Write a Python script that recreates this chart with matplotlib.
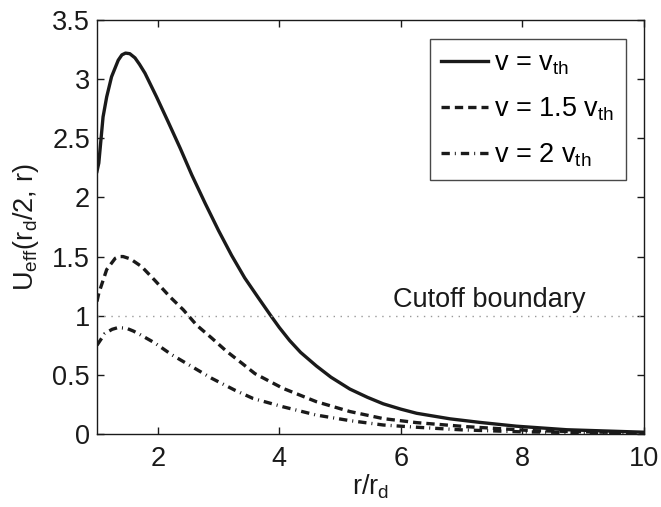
import matplotlib
matplotlib.use("Agg")
import matplotlib.pyplot as plt

plt.rcParams['font.family'] = ['Liberation Sans', 'DejaVu Sans']
plt.rcParams['mathtext.fontset'] = 'custom'
plt.rcParams['mathtext.rm'] = 'Liberation Sans'
plt.rcParams['mathtext.it'] = 'Liberation Sans'

# Data
r_solid = [1.0, 1.03, 1.066, 1.10, 1.16, 1.24, 1.35, 1.41, 1.47, 1.54, 1.625, 1.70, 1.79,
           1.98, 2.17, 2.37, 2.56, 2.78, 3.00, 3.215, 3.43, 3.65, 3.86, 4.00, 4.17, 4.35,
           4.61, 4.85, 5.16, 5.45, 5.71, 6.00, 6.26, 6.81, 7.30, 7.90, 8.73, 10.0]
u_solid = [2.22, 2.29, 2.49, 2.68, 2.85, 3.02, 3.16, 3.205, 3.22, 3.215, 3.18, 3.125, 3.05,
           2.85, 2.64, 2.415, 2.19, 1.95, 1.72, 1.51, 1.32, 1.155, 1.00, 0.90, 0.79, 0.69,
           0.575, 0.48, 0.38, 0.31, 0.255, 0.21, 0.175, 0.128, 0.098, 0.066, 0.036, 0.015]

r_dash = [1.0, 1.03, 1.16, 1.30, 1.36, 1.43, 1.55, 1.735, 1.95, 2.20, 2.42, 2.64, 2.89,
          3.13, 3.38, 3.60, 4.06, 4.61, 5.16, 5.71, 6.26, 7.08, 8.17, 10.0]
u_dash = [1.12, 1.19, 1.39, 1.485, 1.50, 1.50, 1.48, 1.415, 1.30, 1.16, 1.05, 0.92, 0.81,
          0.70, 0.60, 0.51, 0.386, 0.273, 0.19, 0.13, 0.096, 0.062, 0.028, 0.008]

r_dd = [1.0, 1.13, 1.25, 1.35, 1.49, 1.60, 1.71, 1.95, 2.23, 2.56, 2.89, 3.27, 3.57, 4.06,
        4.61, 5.16, 5.71, 6.26, 7.0, 8.0, 10.0]
u_dd = [0.75, 0.85, 0.885, 0.90, 0.893, 0.87, 0.84, 0.77, 0.67, 0.57, 0.47, 0.37, 0.30,
        0.23, 0.16, 0.113, 0.076, 0.057, 0.035, 0.018, 0.005]

labels = [r'v = v$_{\mathregular{th}}$', r'v = 1.5 v$_{\mathregular{th}}$', r'v = 2 v$_{\mathregular{th}}$']
cutoff = 1.0
xticks = [2, 4, 6, 8, 10]
yticks = [0, 0.5, 1, 1.5, 2, 2.5, 3, 3.5]
yticklabels = ['0', '0.5', '1', '1.5', '2', '2.5', '3', '3.5']

FS = 19.5
INK = '#1a1a1a'

fig = plt.figure(figsize=(6.61, 5.07), dpi=100)
ax = fig.add_axes([0.1467, 0.144, 0.8276, 0.8166])

lw = 2.4
ax.plot(r_solid, u_solid, color=INK, lw=lw, label=labels[0])
ax.plot(r_dash, u_dash, color=INK, lw=lw, dashes=(2.5, 1.5), label=labels[1])
ax.plot(r_dd, u_dd, color=INK, lw=lw, dashes=(2.5, 1.5, 0.3, 1.5), label=labels[2])
ax.axhline(cutoff, color='#999999', lw=1.0, ls=(0, (1, 4)))
ax.text(7.45, 1.07, 'Cutoff boundary', ha='center', va='baseline', fontsize=FS, color=INK)

ax.set_xlim(1, 10)
ax.set_ylim(0, 3.5)
ax.set_xticks(xticks)
ax.set_yticks(yticks)
ax.set_yticklabels(yticklabels)
ax.tick_params(direction='in', top=True, right=True, labelsize=FS, length=5, width=1,
               colors=INK)
ax.tick_params(axis='y', pad=5)
ax.tick_params(axis='x', pad=9)
for s in ax.spines.values():
    s.set_linewidth(1.0)
    s.set_color(INK)

ax.set_xlabel(r'r/r$_{\mathregular{d}}$', fontsize=FS, color=INK, labelpad=0)
ax.set_ylabel(r'U$_{\mathregular{eff}}$(r$_{\mathregular{d}}$/2, r)', fontsize=FS,
              color=INK, labelpad=8)

leg = ax.legend(loc='upper right', fontsize=FS, frameon=True, fancybox=False,
                edgecolor=INK, handlelength=1.75, handletextpad=0.22,
                borderpad=0.42, labelspacing=0.68, borderaxespad=0,
                bbox_to_anchor=((626 - 97) / 547, (434 - 39) / 414))
leg.get_frame().set_linewidth(1.0)

fig.savefig('out.png', dpi=100)
